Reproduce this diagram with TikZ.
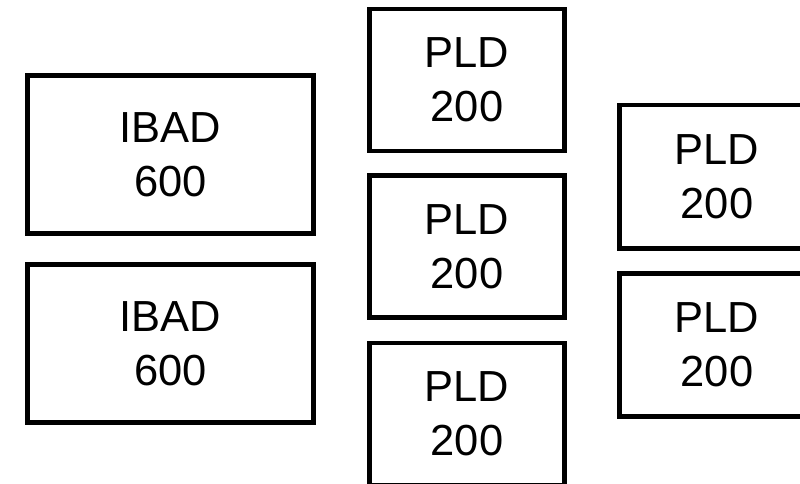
\documentclass[tikz,border=0pt]{standalone}
\usepackage{fontspec}
\setmainfont{Liberation Sans}
\begin{document}
\begin{tikzpicture}[x=1pt,y=-1pt,
  box/.style={draw=black, line width=4.5pt, rectangle, anchor=north west, align=center,
    inner sep=0pt, outer sep=0pt, font=\fontsize{43.5}{54}\selectfont},
  ibadbox/.style={box, minimum width=286pt, minimum height=158pt},
  pldbox/.style={box, minimum width=195pt, minimum height=142pt}]
\useasboundingbox (0,0) rectangle (800,483);
\clip (0,0) rectangle (800,483);
\node[ibadbox] (i1) at (27.5,75.5) {IBAD\\600};
\node[ibadbox] (i2) at (27.5,264.5) {IBAD\\600};
\node[pldbox] (p1) at (369.5,9) {PLD\\200};
\node[pldbox] (p2) at (369.5,175.5) {PLD\\200};
\node[pldbox] (p3) at (369.5,343) {PLD\\200};
\node[pldbox, minimum height=143.5pt] (p4) at (619.5,105) {PLD\\200};
\node[pldbox, minimum height=143pt] (p5) at (619.5,273.3) {PLD\\200};
\end{tikzpicture}
\end{document}
